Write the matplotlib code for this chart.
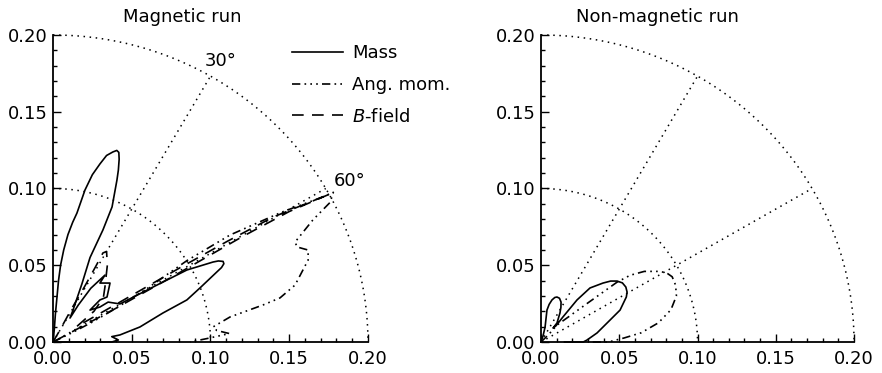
import numpy as np
import matplotlib.pyplot as plt
from matplotlib.ticker import MultipleLocator, FormatStrFormatter

plt.rcParams['font.family'] = 'DejaVu Sans'
plt.rcParams['font.size'] = 13

# curves, (x, y) in the meridional plane
mass_mag_x = [0.0, 0.0008, 0.0015, 0.0025, 0.0035, 0.0048, 0.0068, 0.0095, 0.0125, 0.0152,
              0.0203, 0.025, 0.0298, 0.034, 0.038, 0.0405, 0.0418, 0.042, 0.0415, 0.0406,
              0.0375, 0.0317, 0.0235, 0.0184, 0.0127, 0.0108, 0.016, 0.024,
              0.033, 0.0298, 0.0362, 0.0343, 0.0298, 0.0235, 0.0298, 0.035, 0.0425, 0.0635,
              0.085, 0.1016, 0.105, 0.108, 0.1085, 0.107, 0.104, 0.0933, 0.085, 0.0698,
              0.0552, 0.0425, 0.0373, 0.0415, 0.0373, 0.0]
mass_mag_y = [0.0, 0.008, 0.018, 0.029, 0.04, 0.05, 0.06, 0.07, 0.078, 0.084,
              0.099, 0.109, 0.116, 0.1215, 0.1238, 0.1248, 0.1235, 0.119, 0.112, 0.1055,
              0.088, 0.073, 0.055, 0.038, 0.0208, 0.0156, 0.024, 0.035,
              0.0436, 0.0384, 0.0384, 0.0293, 0.0274, 0.0208, 0.0228, 0.026, 0.0248, 0.0358,
              0.0469, 0.0521, 0.0528, 0.0525, 0.051, 0.0485, 0.0456, 0.0352, 0.0274, 0.0189,
              0.0098, 0.0046, 0.0035, 0.0013, 0.0, 0.0]

angmom_mag_x = [0.0, 0.012, 0.025, 0.04, 0.06, 0.085, 0.1124, 0.145, 0.17, 0.178,
                0.176, 0.165, 0.1537, 0.155, 0.162, 0.162, 0.1587, 0.1537, 0.1441, 0.1333,
                0.1124, 0.1016, 0.104, 0.112, 0.0976, 0.087]
angmom_mag_y = [0.0, 0.006, 0.013, 0.022, 0.035, 0.053, 0.0697, 0.0845, 0.094, 0.0975,
                0.091, 0.0795, 0.0651, 0.0619, 0.0599, 0.0534, 0.0469, 0.0371, 0.0287, 0.0241,
                0.0163, 0.0098, 0.0075, 0.0055, 0.0022, 0.0]

bfield_mag_x = [0.0, 0.0044, 0.012, 0.02, 0.027, 0.0317, 0.034, 0.0345, 0.033, 0.032,
                0.026, 0.015, 0.0425, 0.08, 0.1105, 0.14, 0.176, 0.15, 0.12, 0.08, 0.04, 0.0]
bfield_mag_y = [0.0, 0.0078, 0.022, 0.036, 0.049, 0.058, 0.059, 0.05, 0.036, 0.029,
                0.02, 0.01, 0.026, 0.048, 0.0655, 0.0815, 0.0965, 0.085, 0.0685, 0.045, 0.022, 0.0]

mass_nomag_x = [0.0, 0.0013, 0.0026, 0.0038, 0.0052, 0.007, 0.0088, 0.0102, 0.0118, 0.0128,
                0.0127, 0.0121, 0.0102, 0.0077, 0.0095, 0.014, 0.023, 0.0313, 0.0396, 0.0445,
                0.0486, 0.052, 0.0542, 0.055, 0.0545, 0.0505, 0.0441, 0.0358, 0.0294, 0.027,
                0.015]
mass_nomag_y = [0.0, 0.004, 0.0098, 0.0208, 0.0245, 0.0274, 0.029, 0.0293, 0.0285, 0.026,
                0.0225, 0.0189, 0.0124, 0.0091, 0.0105, 0.0163, 0.0274, 0.0352, 0.0384, 0.0397,
                0.0397, 0.0385, 0.0358, 0.0325, 0.0293, 0.0208, 0.0143, 0.0059, 0.0013, 0.0,
                0.0]

angmom_nomag_x = [0.0, 0.005, 0.0102, 0.03, 0.0486, 0.057, 0.066, 0.075, 0.08, 0.0838,
                  0.086, 0.0865, 0.083, 0.075, 0.064, 0.053, 0.043, 0.03]
angmom_nomag_y = [0.0, 0.005, 0.011, 0.0255, 0.039, 0.0435, 0.046, 0.046, 0.0452, 0.0425,
                  0.037, 0.03, 0.021, 0.0125, 0.006, 0.0026, 0.0, 0.0]

grid_radii = [0.1, 0.2]
grid_angles = [30, 60]   # degrees from the vertical axis

DOT = (0, (1, 3))
DASH = (0, (7, 5))
DASHDOT3 = (0, (5, 2.5, 1, 2.5, 1, 2.5, 1, 2.5))


def draw_grid(ax):
    th = np.radians(np.linspace(0, 90, 300))
    for r in grid_radii:
        ax.plot(r*np.sin(th), r*np.cos(th), color='k', lw=1.1, ls=DOT, clip_on=False)
    for a in grid_angles:
        t = np.radians(a)
        ax.plot([0, 0.2*np.sin(t)], [0, 0.2*np.cos(t)], color='k', lw=1.1, ls=DOT, clip_on=False)


def setup_axes(ax):
    ax.set_xlim(0, 0.2)
    ax.set_ylim(0, 0.2)
    for s in ['top', 'right']:
        ax.spines[s].set_visible(False)
    for s in ['left', 'bottom']:
        ax.spines[s].set_linewidth(1.3)
    ax.xaxis.set_major_locator(MultipleLocator(0.05))
    ax.yaxis.set_major_locator(MultipleLocator(0.05))
    ax.xaxis.set_minor_locator(MultipleLocator(0.01))
    ax.yaxis.set_minor_locator(MultipleLocator(0.01))
    ax.xaxis.set_major_formatter(FormatStrFormatter('%.2f'))
    ax.yaxis.set_major_formatter(FormatStrFormatter('%.2f'))
    ax.tick_params(which='both', direction='in', width=1.0, top=False, right=False)
    ax.tick_params(which='major', length=6, labelsize=13)
    ax.tick_params(axis='y', which='major', pad=4)
    ax.tick_params(axis='x', which='major', pad=6)
    ax.tick_params(which='minor', length=3)


fig = plt.figure(figsize=(8.82, 3.73), dpi=100)
ax1 = fig.add_axes([0.0601, 0.0831, 0.3571, 0.8231])
ax2 = fig.add_axes([0.6134, 0.0831, 0.3549, 0.8231])

for ax in (ax1, ax2):
    setup_axes(ax)
    draw_grid(ax)

l1, = ax1.plot(mass_mag_x, mass_mag_y, color='k', lw=1.2, clip_on=False)
l2, = ax1.plot(angmom_mag_x, angmom_mag_y, color='k', lw=1.2, ls=DASHDOT3, clip_on=False)
l3, = ax1.plot(bfield_mag_x, bfield_mag_y, color='k', lw=1.2, ls=DASH, clip_on=False)

ax2.plot(mass_nomag_x, mass_nomag_y, color='k', lw=1.2, clip_on=False)
ax2.plot(angmom_nomag_x, angmom_nomag_y, color='k', lw=1.2, ls=DASHDOT3, clip_on=False)

ax1.text(0.1067, 0.183, '30°', ha='center', va='center', fontsize=13)
ax1.text(0.1886, 0.1049, '60°', ha='center', va='center', fontsize=13)

ax1.legend([l1, l2, l3], ['Mass', 'Ang. mom.', r'$B$-field'], loc='upper left',
           bbox_to_anchor=(292/882, 1 - 44/373), bbox_transform=fig.transFigure,
           frameon=False, handlelength=2.8, handletextpad=0.55, labelspacing=0.77,
           borderpad=0, borderaxespad=0, fontsize=13)

fig.text(182/882, 1 - 17/373, 'Magnetic run', ha='center', va='center', fontsize=13)
fig.text(657/882, 1 - 17/373, 'Non-magnetic run', ha='center', va='center', fontsize=13)

fig.savefig('out.png', dpi=100)
